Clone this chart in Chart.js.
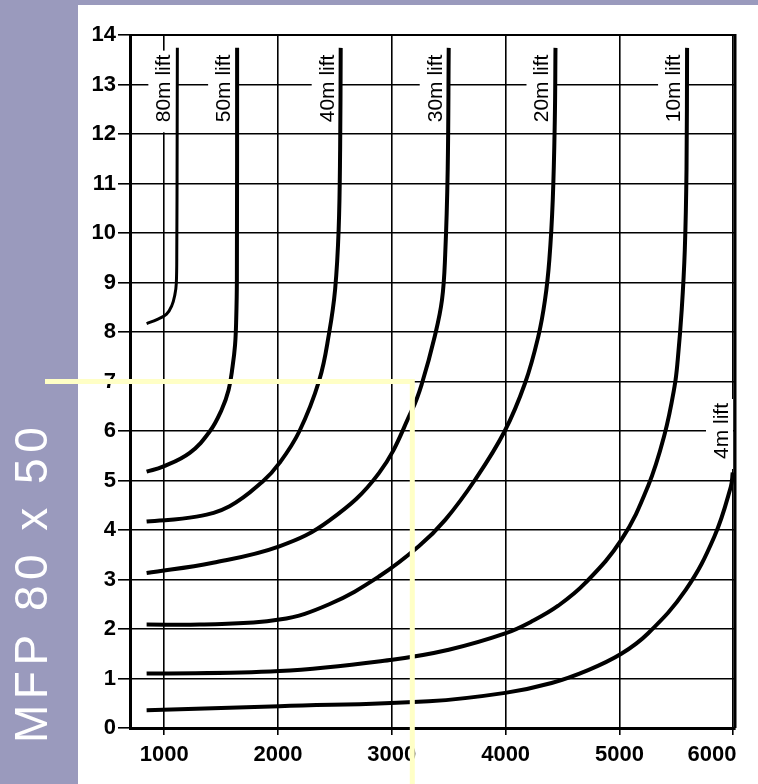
<!DOCTYPE html>
<html>
<head>
<meta charset="utf-8">
<script src="https://cdn.jsdelivr.net/npm/chart.js@4/dist/chart.umd.min.js"></script>
<style>
  html, body { margin: 0; padding: 0; background: #9a9abd; }
  canvas { display: block; }
</style>
</head>
<body>
<canvas id="c" width="758" height="784"></canvas>
<script>
// ---- data ----
const panelTitle = 'MFP 80 x 50';
const xTicks = [1000, 2000, 3000, 4000, 5000, 6000];
const yTicks = [0, 1, 2, 3, 4, 5, 6, 7, 8, 9, 10, 11, 12, 13, 14];
const liftNames = ['80m lift', '50m lift', '40m lift', '30m lift', '20m lift', '10m lift', '4m lift'];

const lift80 = [[846,8.17],[936,8.25],[1021,8.36],[1067,8.53],[1094,8.75],[1107,8.99],[1111,9.66],[1114,11.68],[1116,13.74]];
const lift50 = [[846,5.18],[989,5.28],[1225,5.56],[1400,5.99],[1505,6.43],[1566,6.83],[1601,7.30],[1623,7.74],[1633,8.25],[1639,9.06],[1641,13.74]];
const lift40 = [[846,4.17],[1284,4.27],[1575,4.48],[1866,4.98],[2012,5.35],[2187,5.99],[2362,7.02],[2450,7.99],[2502,8.86],[2533,10.07],[2546,11.68],[2551,13.74]];
const lift30 = [[846,3.13],[1429,3.34],[2012,3.67],[2450,4.19],[2887,5.15],[3179,6.43],[3266,6.97],[3377,7.91],[3441,8.65],[3469,9.56],[3491,11.28],[3500,13.74]];
const lift20 = [[846,2.09],[1312,2.09],[2012,2.19],[2450,2.50],[2887,3.06],[3237,3.67],[3471,4.21],[3733,5.02],[3990,5.99],[4171,6.97],[4287,7.91],[4346,8.65],[4384,9.46],[4414,10.67],[4432,12.29],[4438,13.74]];
const lift10 = [[846,1.10],[2012,1.15],[3004,1.38],[3500,1.58],[3996,1.91],[4244,2.17],[4462,2.47],[4696,2.92],[5016,3.80],[5250,4.88],[5396,5.93],[5484,6.90],[5512,7.44],[5547,8.45],[5574,9.66],[5589,11.28],[5594,13.74]];
const lift4  = [[846,0.36],[2012,0.44],[3325,0.54],[3996,0.71],[4404,0.91],[4725,1.17],[5016,1.50],[5250,1.91],[5582,2.79],[5834,3.87],[5979,4.88],[5995,5.16]];

const liftSeries = [lift80, lift50, lift40, lift30, lift20, lift10, lift4];
const guide = [3180, 7]; // reading guide: length, load

// ---- styles ----
const PURPLE = '#9a9abd';
const GUIDE = '#ffffc6';
const tickFont = { family: '"Liberation Sans", Arial, sans-serif', size: 22, weight: 'bold' };
const NBSP = '\u00a0';

const overlay = {
  id: 'overlay',
  beforeDraw(chart) {
    const { ctx, width, height } = chart;
    ctx.save();
    ctx.fillStyle = PURPLE;
    ctx.fillRect(0, 0, width, height);
    ctx.fillStyle = '#ffffff';
    ctx.fillRect(78, 5, width - 78, height - 5);
    ctx.translate(47, 743);
    ctx.rotate(-Math.PI / 2);
    ctx.fillStyle = '#ffffff';
    ctx.font = '46px "Liberation Sans", Arial, sans-serif';
    try { ctx.letterSpacing = '5.5px'; } catch (e) {}
    ctx.textAlign = 'left';
    ctx.textBaseline = 'alphabetic';
    ctx.fillText(panelTitle, 0, 0);
    ctx.restore();
  },
  beforeDatasetsDraw(chart) {
    const { ctx, chartArea: a, scales: { x, y } } = chart;
    ctx.save();
    ctx.strokeStyle = '#000';
    ctx.lineWidth = 2;
    ctx.beginPath(); ctx.moveTo(a.left, a.top); ctx.lineTo(a.right, a.top); ctx.stroke();
    ctx.lineWidth = 3;
    ctx.beginPath(); ctx.moveTo(a.right, a.top - 1); ctx.lineTo(a.right, a.bottom); ctx.stroke();
    ctx.font = '21px "Liberation Sans", Arial, sans-serif';
    liftNames.forEach((name, i) => {
      const s = liftSeries[i];
      const last = s[s.length - 1];
      let bx, cy, edge;
      if (i === liftNames.length - 1) {
        edge = a.right - 2;
        bx = a.right - 7;
        cy = y.getPixelForValue(6);
      } else {
        edge = x.getPixelForValue(last[0]);
        bx = edge - 7;
        cy = y.getPixelForValue(12.92);
      }
      const len = ctx.measureText(name).width;
      ctx.fillStyle = '#fff';
      ctx.fillRect(bx - 22, cy - len / 2 - 4, edge - (bx - 22), len + 14);
      ctx.save();
      ctx.translate(bx, cy);
      ctx.rotate(-Math.PI / 2);
      ctx.fillStyle = '#000';
      ctx.textAlign = 'center';
      ctx.textBaseline = 'alphabetic';
      ctx.fillText(name, 0, 0);
      ctx.restore();
    });
    ctx.restore();
  },
  afterDraw(chart) {
    const { ctx, height, scales: { x, y } } = chart;
    const gx = x.getPixelForValue(guide[0]);
    const gy = y.getPixelForValue(guide[1]);
    ctx.save();
    ctx.strokeStyle = GUIDE;
    ctx.lineWidth = 5;
    ctx.beginPath();
    ctx.moveTo(45, gy);
    ctx.lineTo(gx, gy);
    ctx.lineTo(gx, height);
    ctx.stroke();
    ctx.restore();
  }
};

new Chart(document.getElementById('c'), {
  type: 'scatter',
  data: {
    datasets: liftSeries.map((s, i) => ({
      label: liftNames[i],
      data: s.map(([vx, vy]) => ({ x: vx, y: vy })),
      showLine: true,
      borderColor: '#000',
      backgroundColor: '#000',
      borderWidth: i === 0 ? 3 : 4,
      pointRadius: 0,
      tension: 0.4,
      fill: false
    }))
  },
  options: {
    responsive: false,
    animation: false,
    events: [],
    layout: { padding: { left: 0, right: 23, top: 35, bottom: 0 } },
    plugins: { legend: { display: false }, tooltip: { enabled: false } },
    scales: {
      x: {
        type: 'linear',
        min: 700,
        max: 6015,
        afterBuildTicks: s => { s.ticks = xTicks.map(v => ({ value: v })); },
        afterFit: s => { s.height = 56; s.paddingLeft = 0; s.paddingRight = 0; },
        ticks: {
          font: tickFont, color: '#000', padding: 7, maxRotation: 0, autoSkip: false,
          callback: v => v === xTicks[xTicks.length - 1] ? String(v) + NBSP.repeat(7) : String(v)
        },
        grid: { color: '#000', lineWidth: 1.6, tickLength: 7 },
        border: { color: '#000', width: 3 }
      },
      y: {
        type: 'linear',
        min: 0,
        max: 14,
        afterBuildTicks: s => { s.ticks = yTicks.map(v => ({ value: v })); },
        afterFit: s => { s.width = 130; s.paddingTop = 0; s.paddingBottom = 0; },
        ticks: { font: tickFont, color: '#000', padding: 2, autoSkip: false, callback: v => String(v) },
        grid: { color: '#000', lineWidth: 1.6, tickLength: 12 },
        border: { color: '#000', width: 3 }
      }
    }
  },
  plugins: [overlay]
});
</script>
</body>
</html>
